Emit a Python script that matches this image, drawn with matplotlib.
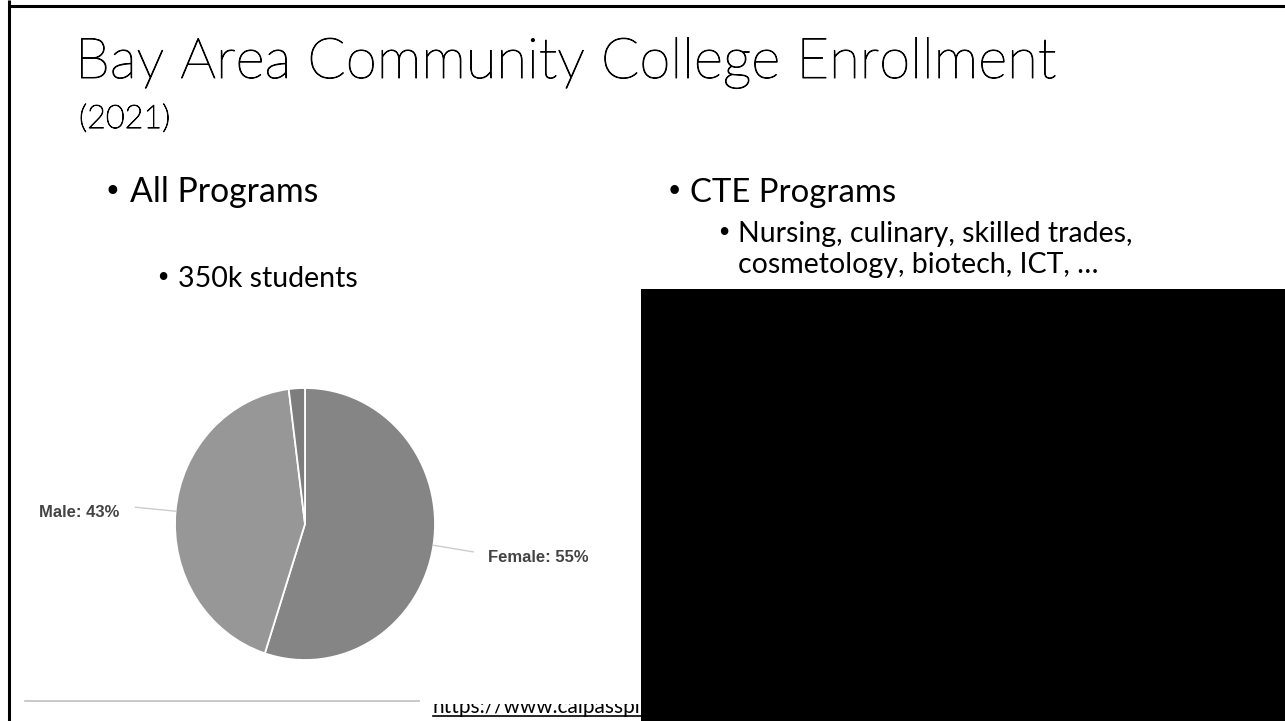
import numpy as np
import matplotlib
matplotlib.use("Agg")
import matplotlib.pyplot as plt
import matplotlib.patheffects as pe
from matplotlib.patches import Rectangle

# data
labels = ["Female", "Male", "Other"]
shares = [55, 43, 2]
colors = ["#858585", "#979797", "#7d7d7d"]
shown = ["Female: 55%", "Male: 43%", None]

title = "Bay Area Community College Enrollment"
subtitle = "(2021)"
left_head = "All Programs"
left_sub = "350k students"
right_head = "CTE Programs"
right_sub = ["Nursing, culinary, skilled trades,", "cosmetology, biotech, ICT, \u2026"]
url = "https://www.calpassplus.org/LaunchBoard/Home.aspx"

W, H = 1285, 721
fig = plt.figure(figsize=(W / 100, H / 100), dpi=100)
ax = fig.add_axes([0, 0, 1, 1])
ax.set_xlim(0, W)
ax.set_ylim(H, 0)
ax.axis("off")
rend = fig.canvas.get_renderer()

body = "Lato"
thick = [pe.withStroke(linewidth=0.7, foreground="black")]


def fit(x, y, s, width, **kw):
    # set the font size so that the text takes the given width in pixels
    t = ax.text(x, y, s, fontsize=10, va="baseline", ha="left", **kw)
    w = t.get_window_extent(rend).width
    t.set_fontsize(10 * width / w)
    return t


def bullet(x, y, fs):
    ax.text(x, y - 0.06 * fs, "\u2022", fontsize=fs * 0.9, family="DejaVu Sans",
            va="baseline", ha="left")


# slide frame
ax.plot([9, 9], [0, H], color="black", lw=2.2, solid_capstyle="butt")
ax.plot([9, W], [6, 6], color="black", lw=2.2, solid_capstyle="butt")

fit(75, 78, title, 980, family=body, fontweight="light", path_effects=thick)
fit(79, 128, subtitle, 92, family=body, fontweight="light", path_effects=thick)

t1 = fit(130, 202, left_head, 188, family=body)
bullet(104, 202, t1.get_fontsize())
t2 = fit(178, 287, left_sub, 180, family=body)
bullet(155, 287, t2.get_fontsize())

t3 = fit(690, 202, right_head, 205, family=body)
bullet(666, 202, t3.get_fontsize())
fs2 = t2.get_fontsize()
bullet(716, 242, fs2)
for i, line in enumerate(right_sub):
    ax.text(738, 242 + 31 * i, line, fontsize=fs2, family=body, va="baseline")

# footer line and source link
ax.plot([25, 431], [701, 701], color="#c0c0c0", lw=1.2)
tu = ax.text(433, 713, url, fontsize=15, family=body, va="baseline", zorder=1)
ax.plot([433, 700], [716, 716], color="black", lw=1.2, zorder=1)
# the chart picture covers the top of the link
ax.add_patch(Rectangle((420, 640), 225, 64, facecolor="white", edgecolor="none", zorder=2))

# blacked-out area
ax.add_patch(Rectangle((641, 289), W - 641, H - 289, facecolor="black", edgecolor="none", zorder=5))

# pie
cx, cy, rx, ry = 305, 524, 130, 136
pax = fig.add_axes([(cx - rx) / W, 1 - (cy + ry) / H, 2 * rx / W, 2 * ry / H])
wedges, _ = pax.pie(shares, colors=colors, startangle=90, counterclock=False,
                    wedgeprops=dict(edgecolor="white", linewidth=1.3))
pax.set_aspect("auto")
pax.set_xlim(-1, 1)
pax.set_ylim(-1, 1)
pax.axis("off")

for w, lab in zip(wedges, shown):
    if lab is None:
        continue
    a = np.deg2rad((w.theta1 + w.theta2) / 2)
    c, s = np.cos(a), np.sin(a)
    x0, y0 = c * 1.0, s * 1.0
    x1, y1 = c * 1.31, s * 1.31
    pax.plot([x0, x1], [y0, y1], color="#cccccc", lw=1.0, clip_on=False)
    if c < 0:
        pax.text(x1 - 0.12, y1 - 0.04, lab, ha="right", va="center", fontsize=12,
                 fontweight="bold", color="#444444", family="Liberation Sans")
    else:
        pax.text(x1 + 0.11, y1 - 0.04, lab, ha="left", va="center", fontsize=12,
                 fontweight="bold", color="#444444", family="Liberation Sans")

fig.savefig("out.png", dpi=100, facecolor="white")
